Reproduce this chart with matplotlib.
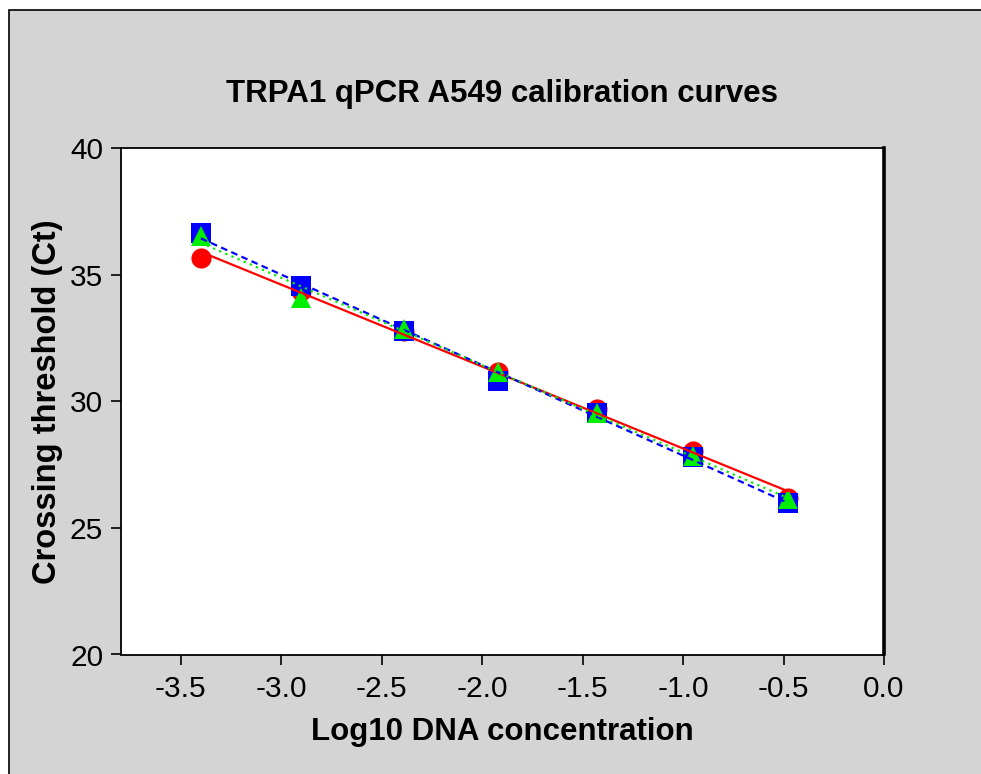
import numpy as np
import matplotlib
matplotlib.use("Agg")
import matplotlib.pyplot as plt
from matplotlib.patches import Rectangle

plt.rcParams['font.family'] = ['Liberation Sans', 'DejaVu Sans']

# Data
log_conc = [-3.40, -2.90, -2.39, -1.92, -1.43, -0.95, -0.48]
ct_red = [35.67, 34.35, 32.80, 31.15, 29.70, 28.05, 26.20]
ct_blue = [36.65, 34.55, 32.80, 30.80, 29.55, 27.80, 26.00]
ct_green = [36.55, 34.10, 32.85, 31.15, 29.55, 27.85, 26.15]

x_ticks = [-3.5, -3.0, -2.5, -2.0, -1.5, -1.0, -0.5, 0.0]
y_ticks = [20, 25, 30, 35, 40]

title = "TRPA1 qPCR A549 calibration curves"
xlabel = "Log10 DNA concentration"
ylabel = "Crossing threshold (Ct)"

W, H = 981, 774
fig = plt.figure(figsize=(W / 100, H / 100), dpi=100)
fig.patch.set_facecolor('white')

# gray panel with black border starting at (9,10), extending past the image
bg = Rectangle((9 / W, -0.1), 1.2, (H - 10) / H + 0.1, transform=fig.transFigure,
               facecolor='#d4d4d4', edgecolor='black', linewidth=1.2, zorder=-10)
fig.patches.append(bg)

ax = fig.add_axes([120.5 / W, 119.5 / H, (884 - 120.5) / W, (654.5 - 148.3) / H])
ax.set_facecolor('white')

x = np.array(log_conc)
series = [
    (ct_red, 'red', 'o', None),
    (ct_blue, '#0000ff', 's', (0, (3, 2))),
    (ct_green, '#00ee00', '^', (0, (1, 2))),
]
for i, (y, c, m, dash) in enumerate(series):
    ax.plot(x, y, linestyle='none', marker=m, markersize=14.5, color=c,
            markeredgewidth=0, zorder=3 + i, clip_on=False)
for i, (y, c, m, dash) in enumerate(series):
    k, b = np.polyfit(x, np.array(y), 1)
    xs = np.array([x.min(), x.max()])
    ax.plot(xs, k * xs + b, color=c, linewidth=1.6,
            linestyle=dash if dash is not None else '-', zorder=7 + i)

ax.set_xlim(-3.8, 0.0)
ax.set_ylim(20, 40)
ax.set_xticks(x_ticks)
ax.set_xticklabels([f"{v:.1f}" for v in x_ticks])
ax.set_yticks(y_ticks)
ax.tick_params(axis='both', direction='out', length=7.5, width=1.2,
               labelsize=21.5, colors='black', pad=5)
ax.tick_params(axis='x', pad=7)
for s in ['left', 'bottom', 'top']:
    ax.spines[s].set_linewidth(1.3)
ax.spines['right'].set_linewidth(2.6)

ax.set_title(title, fontsize=22.5, fontweight='bold', pad=33)
ax.set_xlabel(xlabel, fontsize=22.5, fontweight='bold', labelpad=10)
ax.set_ylabel(ylabel, fontsize=23.5, fontweight='bold', labelpad=5)

fig.savefig('out.png', dpi=100, facecolor=fig.get_facecolor())
